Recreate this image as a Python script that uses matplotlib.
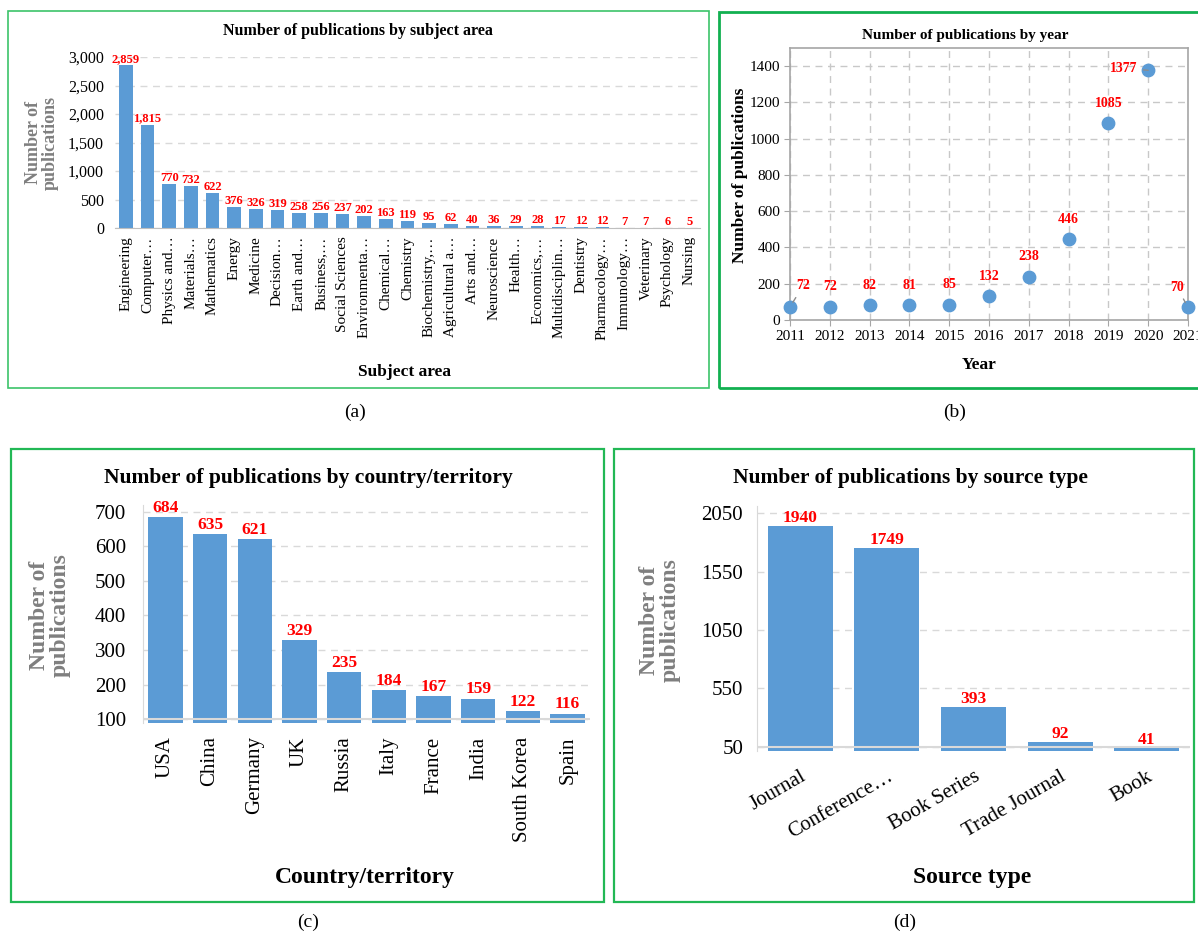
import matplotlib
matplotlib.use("Agg")
import matplotlib.pyplot as plt
from matplotlib.patches import Rectangle

# ---- data -------------------------------------------------------------
subject_areas = ["Engineering", "Computer…", "Physics and…", "Materials…", "Mathematics",
                 "Energy", "Medicine", "Decision…", "Earth and…", "Business,…",
                 "Social Sciences", "Environmenta…", "Chemical…", "Chemistry",
                 "Biochemistry,…", "Agricultural a…", "Arts and…", "Neuroscience",
                 "Health…", "Economics,…", "Multidisciplin…", "Dentistry",
                 "Pharmacology…", "Immunology…", "Veterinary", "Psychology", "Nursing"]
subject_counts = [2859, 1815, 770, 732, 622, 376, 326, 319, 258, 256, 237, 202, 163, 119,
                  95, 62, 40, 36, 29, 28, 17, 12, 12, 7, 7, 6, 5]

years = [2011, 2012, 2013, 2014, 2015, 2016, 2017, 2018, 2019, 2020, 2021]
year_counts = [72, 72, 82, 81, 85, 132, 238, 446, 1085, 1377, 70]

countries = ["USA", "China", "Germany", "UK", "Russia", "Italy", "France", "India",
             "South Korea", "Spain"]
country_counts = [684, 635, 621, 329, 235, 184, 167, 159, 122, 116]

source_types = ["Journal", "Conference…", "Book Series", "Trade Journal", "Book"]
source_counts = [1940, 1749, 393, 92, 41]

# ---- style ------------------------------------------------------------
plt.rcParams["font.family"] = ["Liberation Serif", "DejaVu Serif"]
BLUE = "#5B9BD5"
RED = "#FF0000"
GRID = "#d9d9d9"
GREY_TXT = "#7f7f7f"

W, H = 1198, 936
fig = plt.figure(figsize=(W / 100, H / 100), dpi=100)


def axes_px(left, top, right, bottom):
    return fig.add_axes([left / W, 1 - bottom / H, (right - left) / W, (bottom - top) / H])


def fig_text(x, y, s, **kw):
    fig.text(x / W, 1 - y / H, s, **kw)


def frame_px(left, top, right, bottom, color, lw):
    fig.patches.append(Rectangle((left / W, 1 - bottom / H), (right - left) / W,
                                 (bottom - top) / H, transform=fig.transFigure,
                                 fill=False, edgecolor=color, linewidth=lw, zorder=0))


def grid_y(ax, color=GRID):
    ax.yaxis.grid(True, color=color, linestyle=(0, (5, 4)), linewidth=1)
    ax.set_axisbelow(True)


# ---- panel borders ----------------------------------------------------
frame_px(8, 11, 709, 388, "#3cc46a", 1.2)
frame_px(719, 12, 1215, 388, "#12b050", 2.0)
frame_px(11, 449, 604, 902, "#22b855", 1.6)
frame_px(614, 449, 1194, 902, "#22b855", 1.6)

# ---- (a) subject area -------------------------------------------------
axa = axes_px(115, 57, 700, 228)
xa = list(range(len(subject_areas)))
axa.bar(xa, subject_counts, width=0.62, color=BLUE, zorder=2)
axa.set_xlim(-0.5, len(subject_areas) - 0.5)
axa.set_ylim(0, 3000)
axa.set_yticks([0, 500, 1000, 1500, 2000, 2500, 3000])
axa.set_yticklabels([f"{v:,}" for v in [0, 500, 1000, 1500, 2000, 2500, 3000]])
axa.set_xticks(xa)
axa.set_xticklabels(subject_areas, rotation=90, fontsize=11)
axa.tick_params(axis="y", labelsize=11.5, length=0, pad=8)
axa.tick_params(axis="x", length=0, pad=6)
grid_y(axa)
for s in ["top", "right", "left"]:
    axa.spines[s].set_visible(False)
axa.spines["bottom"].set_color("#bfbfbf")
for x, v in zip(xa, subject_counts):
    axa.annotate(f"{v:,}", (x, v), xytext=(0, 0), textcoords="offset points",
                 ha="center", va="bottom", color=RED, fontsize=9, fontweight="bold",
                 annotation_clip=False)
fig_text(358, 31, "Number of publications by subject area", ha="center", va="center",
         fontsize=11.5, fontweight="bold")
fig_text(42, 143, "Number of\npublications", ha="center", va="center", rotation=90,
         fontsize=13, fontweight="bold", color=GREY_TXT, linespacing=0.95)
fig_text(405, 372, "Subject area", ha="center", va="center", fontsize=12.5,
         fontweight="bold")
fig_text(355, 412, "(a)", ha="center", va="center", fontsize=14)

# ---- (b) year ---------------------------------------------------------
axb = axes_px(790, 48, 1188, 320)
axb.scatter(years, year_counts, s=80, color=BLUE, zorder=3, clip_on=False)
axb.set_xlim(2011, 2021)
axb.set_ylim(0, 1500)
axb.set_xticks(years)
axb.set_yticks(range(0, 1401, 200))
axb.tick_params(labelsize=11, length=4, color="#a6a6a6", pad=3)
axb.grid(True, color="#c8c8c8", linestyle=(0, (5, 4)), linewidth=1)
axb.set_axisbelow(True)
for s in axb.spines.values():
    s.set_color("#a6a6a6")
    s.set_linewidth(1.2)
label_offsets = {2011: (13, 21), 2020: (-24, 2), 2021: (-11, 20)}
for yr, v in zip(years, year_counts):
    dx, dy = label_offsets.get(yr, (0, 20))
    leader = dict(arrowstyle="-", color="#8c8c8c", lw=1, shrinkA=2, shrinkB=4) \
        if yr in label_offsets else None
    axb.annotate(str(v), (yr, v), xytext=(dx * 0.72, dy * 0.72), textcoords="offset points",
                 ha="center", va="center", color=RED, fontsize=10, fontweight="bold",
                 arrowprops=leader, annotation_clip=False)
fig_text(965, 35, "Number of publications by year", ha="center", va="center",
         fontsize=11, fontweight="bold")
fig_text(740, 175, "Number of publications", ha="center", va="center", rotation=90,
         fontsize=12.5, fontweight="bold")
fig_text(979, 365, "Year", ha="center", va="center", fontsize=12.5, fontweight="bold")
fig_text(955, 412, "(b)", ha="center", va="center", fontsize=14)

# ---- (c) country ------------------------------------------------------
axc = axes_px(143, 505, 590, 722.5)
xc = list(range(len(countries)))
axc.bar(xc, country_counts, width=0.77, color=BLUE, zorder=2)
axc.set_xlim(-0.5, len(countries) - 0.5)
axc.set_ylim(90, 720)
axc.set_yticks(range(100, 701, 100))
axc.set_xticks(xc)
axc.set_xticklabels(countries, rotation=90, fontsize=15)
axc.tick_params(axis="y", labelsize=15, length=0, pad=12)
axc.tick_params(axis="x", length=0, pad=10)
grid_y(axc)
axc.axhline(100, color=GRID, lw=1.5, zorder=3)
for s in ["top", "right", "bottom"]:
    axc.spines[s].set_visible(False)
axc.spines["left"].set_color(GRID)
for x, v in zip(xc, country_counts):
    axc.annotate(str(v), (x, v), xytext=(0, 1), textcoords="offset points",
                 ha="center", va="bottom", color=RED, fontsize=12.5, fontweight="bold",
                 annotation_clip=False)
fig_text(308, 478, "Number of publications by country/territory", ha="center",
         va="center", fontsize=15.5, fontweight="bold")
fig_text(50, 615, "Number of\npublications", ha="center", va="center", rotation=90,
         fontsize=17, fontweight="bold", color=GREY_TXT, linespacing=0.95)
fig_text(365, 878, "Country/territory", ha="center", va="center", fontsize=17,
         fontweight="bold")
fig_text(308, 922, "(c)", ha="center", va="center", fontsize=14)

# ---- (d) source type --------------------------------------------------
axd = axes_px(757, 506, 1190, 750.5)
xd = list(range(len(source_types)))
axd.bar(xd, source_counts, width=0.75, color=BLUE, zorder=2)
axd.set_xlim(-0.5, len(source_types) - 0.5)
axd.set_ylim(20, 2110)
axd.set_yticks([50, 550, 1050, 1550, 2050])
axd.set_xticks(xd)
axd.set_xticklabels(source_types, rotation=30, ha="right", rotation_mode="anchor",
                    fontsize=15)
axd.tick_params(axis="y", labelsize=15, length=0, pad=10)
axd.tick_params(axis="x", length=0, pad=12)
grid_y(axd)
axd.axhline(50, color=GRID, lw=1.5, zorder=3)
for s in ["top", "right", "bottom"]:
    axd.spines[s].set_visible(False)
axd.spines["left"].set_color(GRID)
for x, v in zip(xd, source_counts):
    axd.annotate(str(v), (x, v), xytext=(0, 0), textcoords="offset points",
                 ha="center", va="bottom", color=RED, fontsize=12.5, fontweight="bold",
                 annotation_clip=False)
fig_text(910, 478, "Number of publications by source type", ha="center", va="center",
         fontsize=15.5, fontweight="bold")
fig_text(660, 620, "Number of\npublications", ha="center", va="center", rotation=90,
         fontsize=17, fontweight="bold", color=GREY_TXT, linespacing=0.95)
fig_text(972, 878, "Source type", ha="center", va="center", fontsize=17,
         fontweight="bold")
fig_text(905, 922, "(d)", ha="center", va="center", fontsize=14)

fig.savefig("out.png", dpi=100)
